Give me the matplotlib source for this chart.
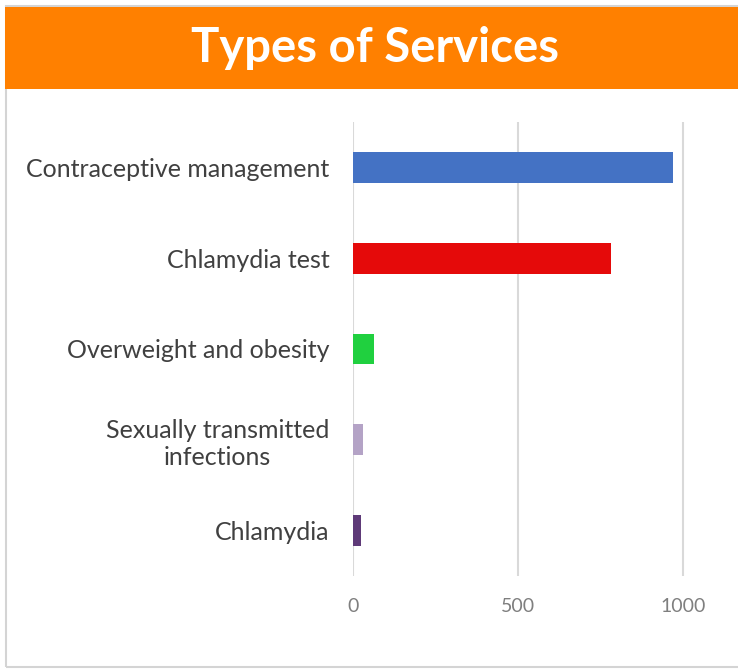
import matplotlib.pyplot as plt
from matplotlib.patches import Rectangle

# data
categories = ["Contraceptive management", "Chlamydia test", "Overweight and obesity",
              "Sexually transmitted\ninfections", "Chlamydia"]
values = [969, 781, 64, 29, 25]
colors = ["#4472C4", "#E50A0A", "#20D03F", "#B4A3C6", "#5E3A78"]
ticks = [0, 500, 1000]

plt.rcParams['font.family'] = ['Lato', 'DejaVu Sans']

fig = plt.figure(figsize=(7.38, 6.69), dpi=100)

# outer frame and orange title band (drawn below the axes)
fig.patches.append(Rectangle((6 / 738, 2 / 669), 740 / 738, 661 / 669, transform=fig.transFigure,
                             facecolor="none", edgecolor="#d4d4d4", linewidth=1.5, zorder=-2))
fig.patches.append(Rectangle((5 / 738, 1 - 89 / 669), 1, 82 / 669, transform=fig.transFigure,
                             facecolor="#FF8000", edgecolor="none", zorder=-1))
fig.text(0.508, 1 - 48 / 669, "Types of Services", color="white", fontsize=34,
         fontweight="bold", ha="center", va="center")

ax = fig.add_axes([353 / 738, 1 - 576 / 669, 347 / 738, 454 / 669])
y = list(range(len(categories)))
ax.barh(y, values, height=0.34, color=colors, zorder=3)
ax.set_ylim(len(categories) - 0.5, -0.5)
ax.set_xlim(0, 1051)
ax.set_xticks(ticks)
ax.set_xticklabels([str(t) for t in ticks], color="#7f7f7f", fontsize=14)
ax.set_yticks(y)
ax.set_yticklabels(categories, color="#404040", fontsize=18, multialignment="center")
ax.tick_params(axis="x", length=0, pad=16)
ax.tick_params(axis="y", length=0, pad=17)
ax.grid(axis="x", color="#d9d9d9", linewidth=1.5, zorder=0)
for s in ax.spines.values():
    s.set_visible(False)
ax.patch.set_alpha(0)

fig.savefig("out.png", dpi=100)
